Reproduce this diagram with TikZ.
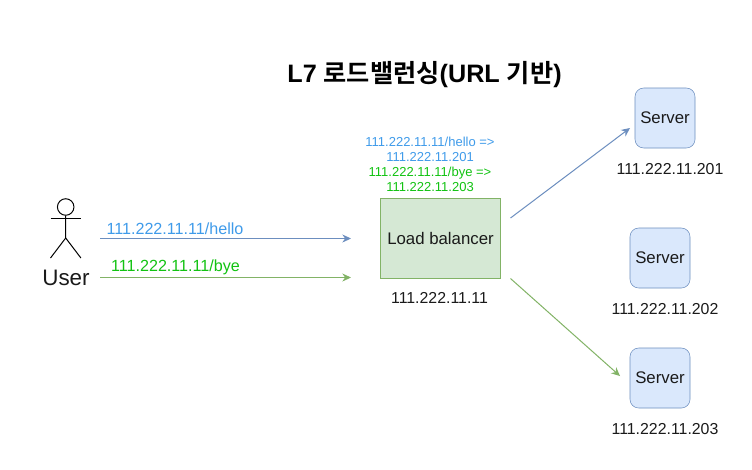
\documentclass[tikz,border=0pt]{standalone}
\usepackage{fontspec}
\setmainfont{Liberation Sans}
\newfontfamily\krfont{Noto Sans CJK KR}[BoldFont={* Bold}]
\usetikzlibrary{arrows.meta}
\definecolor{bluefill}{HTML}{DAE8FC}
\definecolor{blueline}{HTML}{6C8EBF}
\definecolor{greenfill}{HTML}{D5E8D4}
\definecolor{greenline}{HTML}{82B366}
\definecolor{bluetext}{HTML}{3F9BEA}
\definecolor{greentext}{HTML}{12C312}
\definecolor{ink}{HTML}{1A1A1A}
\tikzset{
  server/.style={draw=blueline,fill=bluefill,rounded corners=6.5pt,minimum width=45pt,minimum height=45pt,inner sep=0pt,text=ink,font=\fontsize{12.6pt}{15pt}\selectfont},
  lbbox/.style={draw=greenline,fill=greenfill,minimum width=90pt,minimum height=60pt,inner sep=0pt,text=ink,font=\fontsize{12.6pt}{15pt}\selectfont},
  addr/.style={inner sep=0pt,text=ink,font=\fontsize{11.9pt}{14pt}\selectfont},
  lineblue/.style={draw=blueline,line width=0.75pt,-{Stealth[length=6.5pt,width=6pt]}},
  linegreen/.style={draw=greenline,line width=0.75pt,-{Stealth[length=6.5pt,width=6pt]}},
  actorline/.style={draw=black,line width=0.75pt},
  urlblue/.style={inner sep=0pt,text=bluetext,font=\fontsize{12.1pt}{14pt}\selectfont},
  urlgreen/.style={inner sep=0pt,text=greentext,font=\fontsize{12.1pt}{14pt}\selectfont},
  ruleline/.style={inner sep=0pt,font=\fontsize{9.75pt}{11.25pt}\selectfont,align=center}
}
\begin{document}
\begin{tikzpicture}[x=0.75pt,y=-0.75pt]
\useasboundingbox (0,0) rectangle (752,469);
\fill[white] (0,0) rectangle (752,469);
% title
\node[inner sep=0pt,font=\fontsize{18.9pt}{22pt}\selectfont\bfseries] (title) at (424.5,75) {L7 {\krfont 로드밸런싱}(URL {\krfont 기반})};
% boxes
\node[lbbox] (lb) at (440.5,238) {Load balancer};
\node[addr] (lbaddr) at (439.5,298) {111.222.11.11};
\node[server] (s1) at (665,118) {Server};
\node[server] (s2) at (660,258) {Server};
\node[server] (s3) at (660,378) {Server};
\node[addr] (a1) at (670,169) {111.222.11.201};
\node[addr] (a2) at (665,309) {111.222.11.202};
\node[addr] (a3) at (665,429) {111.222.11.203};
% rules
\node[ruleline] (rules) at (430,164.5) {\textcolor{bluetext}{111.222.11.11/hello =>}\\\textcolor{bluetext}{111.222.11.201}\\\textcolor{greentext}{111.222.11.11/bye =>}\\\textcolor{greentext}{111.222.11.203}};
% actor
\node[circle,actorline,minimum size=12.4pt,inner sep=0pt] (head) at (65.7,207) {};
\coordinate (hip) at (65.7,238);
\coordinate (armL) at (50.5,218);
\coordinate (armR) at (80.9,218);
\coordinate (legL) at (50.5,258);
\coordinate (legR) at (80.9,258);
\draw[actorline] (head.south) -- (hip) -- (legL);
\draw[actorline] (hip) -- (legR);
\draw[actorline] (armL) -- (armR);
\node[inner sep=0pt,text=ink,font=\fontsize{16.8pt}{20pt}\selectfont] (user) at (66,277.5) {User};
% connectors
\coordinate (b1s) at (100,238.5);
\coordinate (b1e) at (351,238.5);
\coordinate (g1s) at (100,277.5);
\coordinate (g1e) at (351,277.5);
\coordinate (b2s) at (510.5,218);
\coordinate (b2e) at (630,128);
\coordinate (g2s) at (510.5,278.5);
\coordinate (g2e) at (620,376);
\draw[lineblue] (b1s) -- (b1e);
\draw[linegreen] (g1s) -- (g1e);
\draw[lineblue] (b2s) -- (b2e);
\draw[linegreen] (g2s) -- (g2e);
\node[urlblue] (u1) at (175,229) {111.222.11.11/hello};
\node[urlgreen] (u2) at (175.5,267) {111.222.11.11/bye};
\end{tikzpicture}
\end{document}
